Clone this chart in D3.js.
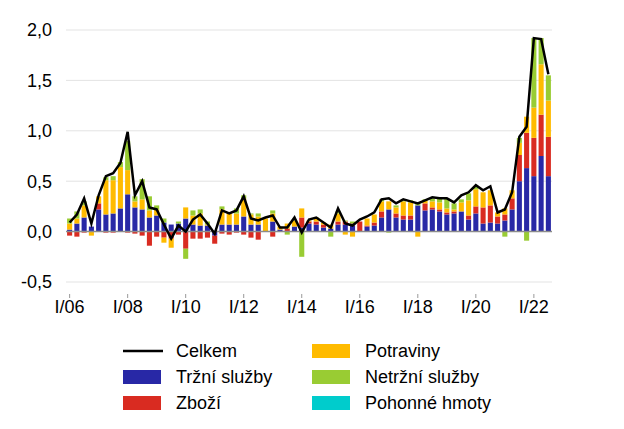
<!DOCTYPE html>
<html><head><meta charset="utf-8">
<script src="https://cdn.jsdelivr.net/npm/d3@7/dist/d3.min.js"></script>
<style>
html,body{margin:0;padding:0;background:#fff;}
svg{display:block;font-family:"Liberation Sans",Arial,sans-serif;}
</style></head>
<body><svg id="c" width="624" height="429"></svg>
<script>
const years = [6,7,8,9,10,11,12,13,14,15,16,17,18,19,20,21,22];
const romans = ["I","II","III","IV"];
const quarters = [];
years.forEach(y => romans.forEach(r => quarters.push(r + "/" + String(y).padStart(2,"0"))));
quarters.length = 67; // I/06 .. III/22
const tickLabels = ["I/06","I/08","I/10","I/12","I/14","I/16","I/18","I/20","I/22"];
const yTicks = [-0.5,0,0.5,1.0,1.5,2.0];

const trzniSluzby = [0.02,0.08,0.14,0.05,0.22,0.17,0.18,0.23,0.37,0.24, 0.22,0.14,0.16,0.09,0.07,0.08,0.13,0.07,0.06,0.06, -0.04,0.07,0.07,0.07,0.15,0.07,0.07,0.00,0.10,0.02, 0.00,0.05,0.04,0.08,0.07,0.04,0.03,0.07,0.07,0.06, 0.00,0.05,0.06,0.14,0.22,0.14,0.12,0.12,0.26,0.21, 0.22,0.20,0.17,0.18,0.20,0.12,0.18,0.08,0.09,0.08, 0.11,0.22,0.50,0.63,0.55,0.75,0.55];
const zbozi = [-0.04,-0.05,-0.01,0.00,0.06,-0.01,-0.01,0.00,-0.01,-0.02, -0.04,-0.14,-0.05,-0.06,-0.07,-0.03,-0.17,-0.07,-0.07,-0.06, -0.08,-0.02,-0.03,-0.01,-0.03,-0.06,-0.08,0.00,-0.05,0.00, 0.03,0.00,0.10,0.02,0.03,0.03,0.00,0.03,0.03,0.02, 0.10,0.01,0.03,0.06,0.00,0.04,0.04,0.04,0.00,0.07, 0.02,0.02,0.02,0.02,0.00,0.04,0.07,0.16,0.17,0.07, 0.06,0.11,0.26,0.35,0.38,0.41,0.39];
const potraviny = [0.06,0.05,0.12,-0.04,0.07,0.34,0.33,0.41,0.24,0.06, 0.10,0.07,0.06,-0.05,-0.09,0.00,0.11,0.09,0.12,0.01, 0.00,0.15,0.12,0.11,0.18,0.10,0.08,0.13,0.08,0.03, 0.05,0.06,0.09,0.01,0.03,0.02,0.04,0.08,-0.03,-0.05, 0.00,0.07,0.08,0.10,0.08,0.06,0.14,0.13,-0.05,0.03, 0.06,0.07,0.04,0.02,0.09,0.15,0.17,0.15,0.15,0.04, 0.06,0.08,0.12,0.16,0.30,0.50,0.36];
const netrzniSluzby = [0.05,0.07,0.04,0.00,0.00,0.03,0.04,0.05,0.29,0.05, 0.20,0.14,0.04,0.04,0.00,0.02,-0.10,0.05,0.04,0.03, 0.01,0.03,0.00,0.05,0.03,0.01,0.03,0.00,0.03,0.00, -0.03,0.01,-0.25,0.00,0.01,0.00,-0.05,0.02,0.01,0.02, 0.00,0.00,0.00,0.02,-0.01,0.02,0.01,0.02,0.03,0.01, 0.03,0.05,0.10,0.06,0.03,0.07,0.03,0.00,0.00,0.00, -0.05,0.00,0.05,-0.09,0.69,0.26,0.25];
const pohonneHmoty = [0,0,0,0,0,0,0,0,0,0, 0,0,0,0,0,0,0,0,0,0, 0,0,0,0,0,0,0,0,0,0, 0,0,0,0,0,0,0,0,0,0, 0,0,0,0,0,0,0,0,0,0, 0,0,0,0,0,0,0,0,0,0, 0,0,0,0,0,0,0];
const celkem = [0.09,0.17,0.33,0.08,0.36,0.55,0.58,0.68,0.99,0.36, 0.50,0.24,0.22,0.07,-0.07,0.06,0.00,0.12,0.17,0.08, -0.02,0.21,0.18,0.21,0.35,0.13,0.11,0.14,0.16,0.04, 0.04,0.14,-0.01,0.12,0.14,0.09,0.04,0.23,0.08,0.06, 0.12,0.15,0.19,0.32,0.33,0.28,0.32,0.30,0.28,0.31, 0.34,0.33,0.33,0.29,0.36,0.39,0.46,0.41,0.45,0.19, 0.22,0.39,0.94,1.04,1.92,1.91,1.56];

const seriesNames = ["Tržní služby","Zboží","Potraviny","Netržní služby","Pohonné hmoty"];
const seriesData = [trzniSluzby, zbozi, potraviny, netrzniSluzby, pohonneHmoty];
const colors = ["#2828a6","#d92b21","#ffbb00","#99cc33","#00cccc"];

const table = quarters.map((q,i) => {
  const o = {q};
  seriesNames.forEach((n,k) => o[n] = seriesData[k][i]);
  return o;
});

const FS = 18;
const svg = d3.select("#c");
const x = d3.scaleBand().domain(quarters).range([66,552]).paddingInner(0.3).paddingOuter(0.15);
const y = d3.scaleLinear().domain([-0.5,2.0]).range([282,30]);

// gridlines
svg.append("g").selectAll("line").data(yTicks.filter(d=>d!==0)).join("line")
  .attr("x1",66).attr("x2",552).attr("y1",d=>y(d)).attr("y2",d=>y(d))
  .attr("stroke","#e3e3e3").attr("stroke-width",1);

// y labels
svg.append("g").selectAll("text").data(yTicks).join("text")
  .attr("x",52).attr("y",d=>y(d)).attr("dy","0.35em").attr("text-anchor","end")
  .attr("font-size",FS).attr("fill","#000")
  .text(d=>d3.format(".1f")(d).replace(".",",").replace("−","-"));

const stack = d3.stack().keys(seriesNames).offset(d3.stackOffsetDiverging);
const stacked = stack(table);

svg.append("g").selectAll("g").data(stacked).join("g")
  .attr("fill",(d,i)=>colors[i])
  .selectAll("rect").data(d=>d).join("rect")
  .attr("x",d=>x(d.data.q)).attr("width",x.bandwidth())
  .attr("y",d=>y(Math.max(d[0],d[1]))).attr("height",d=>Math.abs(y(d[0])-y(d[1])));

// zero line
svg.append("line").attr("x1",66).attr("x2",552).attr("y1",y(0)).attr("y2",y(0))
  .attr("stroke","#8c8c8c").attr("stroke-width",1.5);

// line
const line = d3.line().x((d,i)=>x(quarters[i])+x.bandwidth()/2).y(d=>y(d));
svg.append("path").datum(celkem).attr("d",line).attr("fill","none")
  .attr("stroke","#000").attr("stroke-width",2.5).attr("stroke-linejoin","miter");

// x axis
const xAxis = d3.axisBottom(x).tickValues(tickLabels).tickSize(4).tickPadding(2);
const gx = svg.append("g").attr("transform","translate(0,294)").call(xAxis);
gx.select(".domain").remove();
gx.selectAll(".tick line").attr("stroke","#999");
gx.selectAll(".tick text").attr("font-size",FS).attr("fill","#000")
  .attr("font-family","'Liberation Sans',Arial,sans-serif");

// legend
const legendItems = [
  {name:"Celkem", type:"line", color:"#000", col:0, row:0},
  {name:"Tržní služby", type:"rect", color:colors[0], col:0, row:1},
  {name:"Zboží", type:"rect", color:colors[1], col:0, row:2},
  {name:"Potraviny", type:"rect", color:colors[2], col:1, row:0},
  {name:"Netržní služby", type:"rect", color:colors[3], col:1, row:1},
  {name:"Pohonné hmoty", type:"rect", color:colors[4], col:1, row:2}
];
const colX = [123,312], rowY = [351,377,403];
const lg = svg.append("g");
legendItems.forEach(it => {
  const gx0 = colX[it.col], gy = rowY[it.row];
  if (it.type==="line") {
    lg.append("line").attr("x1",gx0).attr("x2",gx0+40).attr("y1",gy).attr("y2",gy)
      .attr("stroke",it.color).attr("stroke-width",2.5);
  } else {
    lg.append("rect").attr("x",gx0).attr("y",gy-7).attr("width",38).attr("height",14).attr("fill",it.color);
  }
  lg.append("text").attr("x",gx0+(it.col===0?53:53)).attr("y",gy).attr("dy","0.35em")
    .attr("font-size",FS).attr("fill","#000").text(it.name);
});
</script></body></html>
